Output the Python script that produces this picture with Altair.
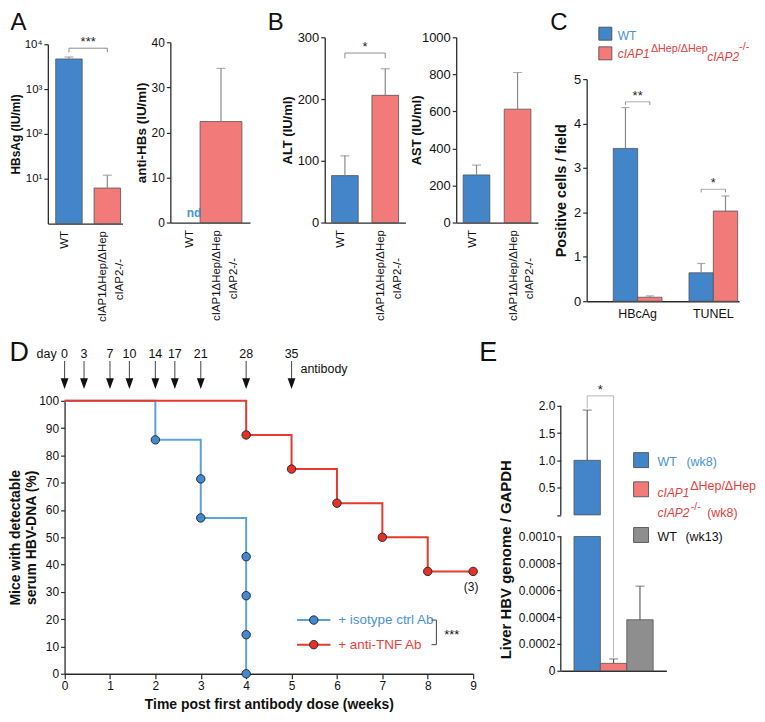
import altair as alt
import pandas as pd

FONT = "Liberation Sans"
BLUE = "#4286c9"
SALMON = "#f27b79"
GREYBAR = "#8e8e8e"
ERRC = "#8a8a8a"
BRC = "#8c8c8c"
AXC = "#2b2b2b"
INK = "#111111"
TXT_BLUE = "#4a92d6"
TXT_RED = "#e8403c"
LINE_BLUE = "#5ca3db"
LINE_RED = "#e63a2e"
PT_BLUE = "#3f8ad0"
PT_RED = "#e3322a"

# ---------------- data ----------------
genotypes = ["WT", "cIAP1ΔHep/ΔHep cIAP2-/-"]
hbsag_mean = [4700, 6.2]
hbsag_err = [5200, 12]
antihbs_mean = [None, 22.4]      # WT: not detected (nd)
antihbs_err = [None, 34.2]
alt_mean = [76, 206]
alt_err = [108, 249]
ast_mean = [257, 612]
ast_err = [310, 810]

c_markers = ["HBcAg", "TUNEL"]
c_groups = ["WT", "KO"]
c_wt_mean = [3.44, 0.64]
c_wt_err = [4.36, 0.85]
c_ko_mean = [0.09, 2.03]
c_ko_err = [0.12, 2.37]

iso_step_week = [0, 2, 3, 4]
iso_step_pct = [100, 85.7, 57.1, 0]
iso_pt_week = [2, 3, 3, 4, 4, 4, 4]
iso_pt_pct = [85.7, 71.4, 57.1, 42.9, 28.6, 14.3, 0]
tnf_step_week = [0, 4, 5, 6, 7, 8, 9]
tnf_step_pct = [100, 87.5, 75, 62.5, 50, 37.5, 37.5]
tnf_pt_week = [4, 5, 6, 7, 8, 9]
tnf_pt_pct = [87.5, 75, 62.5, 50, 37.5, 37.5]
dose_days = [0, 3, 7, 10, 14, 17, 21, 28, 35]

e_groups = ["WT (wk8)", "cIAP1/2 (wk8)", "WT (wk13)"]
e_mean = [1.0, 0.000055, 0.00038]
e_err = [1.92, 0.000088, 0.00063]

WT, KO = genotypes
KO_LINE1, KO_LINE2 = KO.split(" ")
GENO_COLOR = alt.Scale(domain=genotypes, range=[BLUE, SALMON])
GENO_LABEL = "datum.value == 'WT' ? 'WT' : split(datum.value, ' ')[0]"


def text_at(txt, x, y, size=12.0, color=INK, align="left", baseline="middle", style="normal", weight="normal"):
    return alt.Chart().mark_text(text=txt, fontSize=size, color=color, align=align, baseline=baseline,
                                 fontStyle=style, fontWeight=weight, font=FONT).encode(
        x=alt.value(x), y=alt.value(y))


def swatch(x, y, color, side):
    return alt.Chart().mark_square(size=side * side, fill=color, fillOpacity=1, stroke="#444444",
                                   strokeWidth=0.8).encode(x=alt.value(x), y=alt.value(y))


def yaxis(title, values, label_size=12, title_size=12, title_pad=3, **kw):
    return alt.Axis(title=title, values=values, grid=False, tickSize=4, tickWidth=1.2, tickColor=AXC,
                    domainColor=AXC, domainWidth=1.3, labelFontSize=label_size, labelPadding=2,
                    labelColor=INK, titleFontSize=title_size, titleFontWeight="bold", titleColor=INK,
                    titlePadding=title_pad, **kw)


def geno_x(p_in, p_out, align, rng=None):
    sc = dict(domain=genotypes, paddingInner=p_in, paddingOuter=p_out, align=align)
    if rng is not None:
        sc["range"] = rng
    scale = alt.Scale(**sc)
    axis = alt.Axis(title=None, labelAngle=270, labelAlign="right", labelBaseline="middle", ticks=False,
                    labelPadding=7, labelFontSize=11.5, labelExpr=GENO_LABEL, labelOffset=-4,
                    labelColor=INK, domainColor=AXC, domainWidth=1.3)

    def enc(band_position=None):
        kw = {}
        if band_position is not None:
            kw["bandPosition"] = band_position
        return alt.X("g:N", scale=scale, axis=axis, **kw)
    return enc


def geno_panel(mean, err, xf, y_scale, y_axis, width, height, bar_size=None, log_base=None,
               bracket=None, star_dx=0, extra=()):
    df = pd.DataFrame({"g": genotypes, "m": mean, "e": err}).dropna()

    def Y(f):
        return alt.Y(f, scale=y_scale, axis=y_axis)
    bar_kw = dict(stroke="#555555", strokeWidth=0.8)
    if bar_size:
        bar_kw["size"] = bar_size
    enc = dict(x=xf(), y=Y("m:Q"), color=alt.Color("g:N", scale=GENO_COLOR, legend=None))
    if log_base is not None:
        enc["y2"] = alt.datum(log_base)
    layers = [
        alt.Chart(df).mark_bar(**bar_kw).encode(**enc),
        alt.Chart(df).mark_rule(color=ERRC, strokeWidth=1.2).encode(x=xf(), y=Y("m:Q"), y2="e:Q"),
        alt.Chart(df).mark_tick(color=ERRC, thickness=1.2, size=9).encode(x=xf(), y=Y("e:Q")),
        # second line of the rotated genotype label
        alt.Chart(pd.DataFrame({"g": [KO]})).mark_text(
            text=KO_LINE2, angle=270, align="right", baseline="middle", fontSize=11.5, dy=13,
            color=INK).encode(x=xf(), y=alt.value(height + 35.5)),
    ]
    if bracket is not None:
        y_leg, y_top, stars = bracket
        br = pd.DataFrame({"g": [WT, WT, KO, KO], "v": [y_leg, y_top, y_top, y_leg], "o": [0, 1, 2, 3]})
        layers.append(alt.Chart(br).mark_line(color=BRC, strokeWidth=1).encode(
            x=xf(), y=Y("v:Q"), order="o:Q"))
        st = pd.DataFrame({"g": [WT], "v": [y_top]})
        layers.append(alt.Chart(st).mark_text(text=stars, fontSize=13, baseline="alphabetic", dy=-2,
                                              dx=star_dx, color="#222222").encode(x=xf(1), y=Y("v:Q")))
    layers += list(extra)
    return alt.layer(*layers).properties(width=width, height=height)


# ---------------- panel A ----------------
A1_W, A1_H = 75, 187
A1_PIN = 0.31
xA1 = geno_x(A1_PIN, 0.128, 0.8)
yA1s = alt.Scale(type="log", domain=[1, 10000], range=[A1_H, 7], nice=False)
yA1a = yaxis("HBsAg (IU/ml)", [10, 100, 1000, 10000], label_size=11.5, title_size=12, title_pad=2,
             labelOverlap=False,
             labelExpr="datum.value == 10 ? '10¹' : datum.value == 100 ? '10²' : "
                       "datum.value == 1000 ? '10³' : '10⁴'")
a1_step = A1_W / (2 - A1_PIN + 2 * 0.128)
A1 = geno_panel(hbsag_mean, hbsag_err, xA1, yA1s, yA1a, A1_W, A1_H, log_base=1,
                bracket=(6600, 8165, "***"), star_dx=a1_step * A1_PIN / 2,
                extra=[text_at("A", -37.4, -6.9, size=24, baseline="alphabetic")])

A2_H = 186
xA2 = geno_x(0, 0.473, 0.394, rng=[0, 80])
yA2s = alt.Scale(domain=[0, 40], range=[A2_H, 5], nice=False)
yA2a = yaxis("anti-HBs (IU/ml)", [0, 10, 20, 30, 40], label_size=12, title_size=13.5)
nd = alt.Chart(pd.DataFrame({"g": [WT], "v": [0]})).mark_text(
    text="nd", color=TXT_BLUE, fontWeight="bold", fontSize=12, baseline="alphabetic", dy=-6).encode(
    x=xA2(), y=alt.Y("v:Q", scale=yA2s, axis=yA2a))
A2 = geno_panel(antihbs_mean, antihbs_err, xA2, yA2s, yA2a, 106.8, A2_H, bar_size=42, extra=[nd])

# ---------------- panel B ----------------
B_H = 186
B1_PIN = 0.34
xB1 = geno_x(B1_PIN, 0.17, 0.5, rng=[0, 81])
yB1s = alt.Scale(domain=[0, 300], range=[B_H, 0], nice=False)
yB1a = yaxis("ALT (IU/ml)", [0, 100, 200, 300], label_size=13, title_size=13, format="d")
b1_step = 81 / (2 - B1_PIN + 2 * 0.17)
B1 = geno_panel(alt_mean, alt_err, xB1, yB1s, yB1a, 84, B_H, bracket=(266, 274.5, "*"),
                star_dx=b1_step * B1_PIN / 2,
                extra=[text_at("B", -57.2, -6.9, size=24, baseline="alphabetic")])

xB2 = geno_x(0.35, 0.17, 0.5, rng=[0, 82])
yB2s = alt.Scale(domain=[0, 1000], range=[B_H, 0], nice=False)
yB2a = yaxis("AST (IU/ml)", [0, 200, 400, 600, 800, 1000], label_size=13, title_size=13, title_pad=-2,
             format="d")
B2 = geno_panel(ast_mean, ast_err, xB2, yB2s, yB2a, 83, B_H)

# ---------------- panel C ----------------
C_W, C_H = 153, 265
C_PIN, C_POUT, C_ALIGN = 0.357, 0.185, 0.95
rows = []
for i, mk in enumerate(c_markers):
    rows.append(dict(mk=mk, grp="WT", m=c_wt_mean[i], e=c_wt_err[i]))
    rows.append(dict(mk=mk, grp="KO", m=c_ko_mean[i], e=c_ko_err[i]))
dfc = pd.DataFrame(rows)
xCs = alt.Scale(domain=c_markers, paddingInner=C_PIN, paddingOuter=C_POUT, align=C_ALIGN)
xCa = alt.Axis(title=None, ticks=False, labelAngle=0, labelFontSize=12.5, labelPadding=6, labelColor=INK,
               domainColor=AXC, domainWidth=1.3)


def XC():
    return alt.X("mk:N", scale=xCs, axis=xCa)


XOC = alt.XOffset("grp:N", scale=alt.Scale(domain=c_groups, paddingInner=0, paddingOuter=0))
yCs = alt.Scale(domain=[0, 5], range=[C_H, 42], nice=False)
yCa = yaxis("Positive cells / field", [0, 1, 2, 3, 4, 5], label_size=13, title_size=14.5, title_pad=5)


def YC(f):
    return alt.Y(f, scale=yCs, axis=yCa)


c_step = C_W / (len(c_markers) - C_PIN + 2 * C_POUT)
c_sub = c_step * (1 - C_PIN) / len(c_groups)
c_br = pd.DataFrame({"mk": c_markers, "v": [4.49, 2.52], "s": ["**", "*"]})
legs = c_br.merge(pd.DataFrame({"grp": c_groups}), how="cross")
legs["v0"] = legs["v"] - 0.07

C = alt.layer(
    alt.Chart(dfc).mark_bar(stroke="#555555", strokeWidth=0.8).encode(
        x=XC(), xOffset=XOC, y=YC("m:Q"),
        color=alt.Color("grp:N", scale=alt.Scale(domain=c_groups, range=[BLUE, SALMON]), legend=None)),
    alt.Chart(dfc).mark_rule(color=ERRC, strokeWidth=1.2).encode(x=XC(), xOffset=XOC, y=YC("m:Q"), y2="e:Q"),
    alt.Chart(dfc).mark_tick(color=ERRC, thickness=1.2, size=8).encode(x=XC(), xOffset=XOC, y=YC("e:Q")),
    alt.Chart(c_br).mark_tick(color=BRC, thickness=1, size=c_sub).encode(x=XC(), y=YC("v:Q")),
    alt.Chart(legs).mark_rule(color=BRC, strokeWidth=1).encode(x=XC(), xOffset=XOC, y=YC("v:Q"), y2="v0:Q"),
    alt.Chart(c_br).mark_text(fontSize=13, baseline="alphabetic", dy=-2, color="#222222").encode(
        x=XC(), y=YC("v:Q"), text="s:N"),
    text_at("C", -36.5, -7.5, size=24, baseline="alphabetic"),
    swatch(18.7, -3.6, BLUE, 13.1),
    text_at("WT", 31.2, -1.6, size=12, color=TXT_BLUE),
    swatch(18.7, 16.1, SALMON, 13.1),
    text_at("cIAP1", 31.2, 16.8, size=12, color=TXT_RED, style="italic"),
    text_at("ΔHep/ΔHep", 64.5, 11.8, size=10.8, color=TXT_RED),
    text_at("cIAP2", 121.1, 19.4, size=12, color=TXT_RED, style="italic"),
    text_at("-/-", 153.0, 9.9, size=10.8, color=TXT_RED),
).properties(width=C_W, height=C_H)

# ---------------- panel D ----------------
D_W, D_H = 466.2, 274
D_X0 = 16.8
xDs = alt.Scale(domain=[0, 9], range=[D_X0, 427], nice=False, zero=False)
xDa = alt.Axis(title="Time post first antibody dose (weeks)", values=list(range(10)), labelFlush=False,
               grid=False, tickSize=5, tickWidth=1.2, tickColor=AXC, domainColor=AXC, domainWidth=1.3,
               labelFontSize=12, labelPadding=2, labelColor=INK, titleFontSize=14, titleFontWeight="bold",
               titleColor=INK, titlePadding=6)
yDs = alt.Scale(domain=[0, 100], nice=False)
yDa = yaxis(["Mice with detectable", "serum HBV-DNA (%)"], list(range(0, 101, 10)), label_size=12,
            title_size=14, title_pad=0, offset=-D_X0, titleLineHeight=16)


def XD(f):
    return alt.X(f, scale=xDs, axis=xDa)


def YD(f):
    return alt.Y(f, scale=yDs, axis=yDa)


iso_steps = pd.DataFrame({"w": iso_step_week, "p": iso_step_pct})
tnf_steps = pd.DataFrame({"w": tnf_step_week, "p": tnf_step_pct})
iso_pts = pd.DataFrame({"w": iso_pt_week, "p": iso_pt_pct})
tnf_pts = pd.DataFrame({"w": tnf_pt_week, "p": tnf_pt_pct})
doses = pd.DataFrame({"w": [d / 7 for d in dose_days], "d": dose_days})
last_tnf = tnf_pts.tail(1)

D = alt.layer(
    alt.Chart(iso_steps).mark_line(interpolate="step-after", color=LINE_BLUE, strokeWidth=2).encode(
        x=XD("w:Q"), y=YD("p:Q")),
    alt.Chart(tnf_steps).mark_line(interpolate="step-after", color=LINE_RED, strokeWidth=2).encode(
        x=XD("w:Q"), y=YD("p:Q")),
    alt.Chart(iso_pts).mark_circle(size=72, fill=PT_BLUE, opacity=1, stroke="#1f1f1f", strokeWidth=0.9).encode(
        x=XD("w:Q"), y=YD("p:Q")),
    alt.Chart(tnf_pts).mark_circle(size=72, fill=PT_RED, opacity=1, stroke="#1f1f1f", strokeWidth=0.9).encode(
        x=XD("w:Q"), y=YD("p:Q")),
    alt.Chart(last_tnf).mark_text(text="(3)", fontSize=12, dy=16, dx=-2, color=INK).encode(
        x=XD("w:Q"), y=YD("p:Q")),
    alt.Chart(doses).mark_rule(color="#555555", strokeWidth=1.1).encode(
        x=XD("w:Q"), y=alt.value(-40), y2=alt.value(-21)),
    alt.Chart(doses).mark_point(shape="M-0.73,-1L0.73,-1L0,1Z", size=115, filled=True, fill="#111111",
                                opacity=1, strokeWidth=0).encode(x=XD("w:Q"), y=alt.value(-17.3)),
    alt.Chart(doses).mark_text(fontSize=12.5, baseline="alphabetic", color=INK).encode(
        x=XD("w:Q"), y=alt.value(-43.4), text="d:Q"),
    alt.Chart(doses.head(1)).mark_text(text="day", fontSize=12.5, align="right", baseline="alphabetic",
                                       dx=-8, color=INK).encode(x=XD("w:Q"), y=alt.value(-43.4)),
    alt.Chart(doses.tail(1)).mark_text(text="antibody", fontSize=12.5, align="left", baseline="middle",
                                       dx=9, color=INK).encode(x=XD("w:Q"), y=alt.value(-31.6)),
    # legend
    alt.Chart().mark_rule(color=LINE_BLUE, strokeWidth=2).encode(
        x=alt.value(250.2), x2=alt.value(283.7), y=alt.value(220.1)),
    alt.Chart().mark_circle(size=72, fill=PT_BLUE, opacity=1, stroke="#1f1f1f", strokeWidth=0.9).encode(
        x=alt.value(267), y=alt.value(220.1)),
    text_at("+ isotype ctrl Ab", 291.6, 220.1, size=13.5, color=TXT_BLUE),
    alt.Chart().mark_rule(color=LINE_RED, strokeWidth=2).encode(
        x=alt.value(250.2), x2=alt.value(283.7), y=alt.value(244.8)),
    alt.Chart().mark_circle(size=72, fill=PT_RED, opacity=1, stroke="#1f1f1f", strokeWidth=0.9).encode(
        x=alt.value(267), y=alt.value(244.8)),
    text_at("+ anti-TNF Ab", 291.6, 244.8, size=13.5, color=TXT_RED),
    alt.Chart().mark_rule(color="#444444", strokeWidth=1).encode(
        x=alt.value(390.1), y=alt.value(220.1), y2=alt.value(244.8)),
    alt.Chart().mark_rule(color="#444444", strokeWidth=1).encode(
        x=alt.value(385.2), x2=alt.value(390.1), y=alt.value(220.1)),
    alt.Chart().mark_rule(color="#444444", strokeWidth=1).encode(
        x=alt.value(385.2), x2=alt.value(390.1), y=alt.value(244.8)),
    text_at("***", 397.9, 238.9, size=13, baseline="alphabetic"),
    text_at("D", -38.4, -40.5, size=27, baseline="alphabetic"),
).properties(width=D_W, height=D_H)

# ---------------- panel E ----------------
E_W, E_H = 106, 271
BRK_LO, BRK_HI, E_TOP = 0.001, 0.0011, 2.0
yEs = alt.Scale(domain=[0, BRK_LO, BRK_HI, E_TOP], range=[E_H, 136.2, 114.5, 4.9], nice=False, zero=False)
yEa = yaxis("Liver HBV genome / GAPDH",
            [0, 0.0002, 0.0004, 0.0006, 0.0008, 0.001, BRK_HI, 0.5, 1.0, 1.5, 2.0],
            label_size=12, title_size=15, title_pad=5, domain=False, labelOverlap=False, titleY=159,
            labelExpr="datum.value == 0 ? '0' : datum.value <= 0.00101 ? format(datum.value, '.4f') : "
                      "datum.value < 0.4 ? '' : format(datum.value, '.1f')")
xEs = alt.Scale(domain=e_groups, paddingInner=0, paddingOuter=0.5)
xEa = alt.Axis(title=None, labels=False, ticks=False, domainColor=AXC, domainWidth=1.3)


def XE(bp=None):
    kw = {} if bp is None else {"bandPosition": bp}
    return alt.X("g:N", scale=xEs, axis=xEa, **kw)


def YE(f):
    return alt.Y(f, scale=yEs, axis=yEa)


seg = []
for g, m in zip(e_groups, e_mean):
    seg.append({"g": g, "y0": 0.0, "y1": min(m, BRK_LO)})
    if m > BRK_HI:
        seg.append({"g": g, "y0": BRK_HI, "y1": m})
dfe_seg = pd.DataFrame(seg)
dfe = pd.DataFrame({"g": e_groups, "m": e_mean, "e": e_err})
e_axis_parts = pd.DataFrame({"a": [0.0, BRK_HI], "b": [BRK_LO, E_TOP]})
e_br = pd.DataFrame({"g": [e_groups[0], e_groups[0], e_groups[1], e_groups[1]],
                     "v": [1.95, 2.18, 2.18, 0.0001], "o": [0, 1, 2, 3]})

E = alt.layer(
    alt.Chart(dfe_seg).mark_bar(stroke="#555555", strokeWidth=0.8).encode(
        x=XE(), y=YE("y1:Q"), y2="y0:Q",
        color=alt.Color("g:N", scale=alt.Scale(domain=e_groups, range=[BLUE, SALMON, GREYBAR]), legend=None)),
    alt.Chart(e_axis_parts).mark_rule(color=AXC, strokeWidth=1.3).encode(
        x=alt.value(0), y=YE("a:Q"), y2="b:Q"),
    alt.Chart(dfe).mark_rule(color="#555555", strokeWidth=1.1).encode(x=XE(), y=YE("m:Q"), y2="e:Q"),
    alt.Chart(dfe).mark_tick(color="#555555", thickness=1.1, size=9).encode(x=XE(), y=YE("e:Q")),
    alt.Chart(e_br).mark_line(color="#b5b5b5", strokeWidth=1).encode(x=XE(), y=YE("v:Q"), order="o:Q"),
    alt.Chart(pd.DataFrame({"g": [e_groups[0]], "v": [2.18]})).mark_text(
        text="*", fontSize=13, baseline="alphabetic", dy=-2, color="#222222").encode(x=XE(1), y=YE("v:Q")),
    text_at("E", -81.8, -40.5, size=27, baseline="alphabetic"),
    swatch(80.6, 59.5, BLUE, 15),
    text_at("WT", 97.2, 61.2, size=12.5, color=TXT_BLUE),
    text_at("(wk8)", 126.1, 61.2, size=12.5, color=TXT_BLUE),
    swatch(80.6, 88.8, SALMON, 15),
    text_at("cIAP1", 97.2, 92.8, size=12, color=TXT_RED, style="italic"),
    text_at("ΔHep/ΔHep", 130.0, 86.0, size=12.5, color=TXT_RED),
    text_at("cIAP2", 97.2, 112.5, size=12, color=TXT_RED, style="italic"),
    text_at("-/-", 130.5, 106.5, size=10.5, color=TXT_RED),
    text_at("(wk8)", 147.0, 112.5, size=12.5, color=TXT_RED),
    swatch(80.6, 134.7, GREYBAR, 15),
    text_at("WT", 97.2, 136.9, size=12.5, color=INK),
    text_at("(wk13)", 125.1, 136.9, size=12.5, color=INK),
).properties(width=E_W, height=E_H)

top_row = alt.hconcat(A1, A2, B1, B2, C, spacing=48, bounds="flush").resolve_scale(color="independent")
bottom_row = alt.hconcat(D, E, spacing=48, bounds="flush").resolve_scale(color="independent")

chart = alt.vconcat(top_row, bottom_row, spacing=16,
                    padding={"left": 0, "top": 1, "right": 0, "bottom": 0}).resolve_scale(
    color="independent").configure(font=FONT).configure_view(stroke=None)

chart.save("out.html", embed_options={"renderer": "svg", "actions": False})
